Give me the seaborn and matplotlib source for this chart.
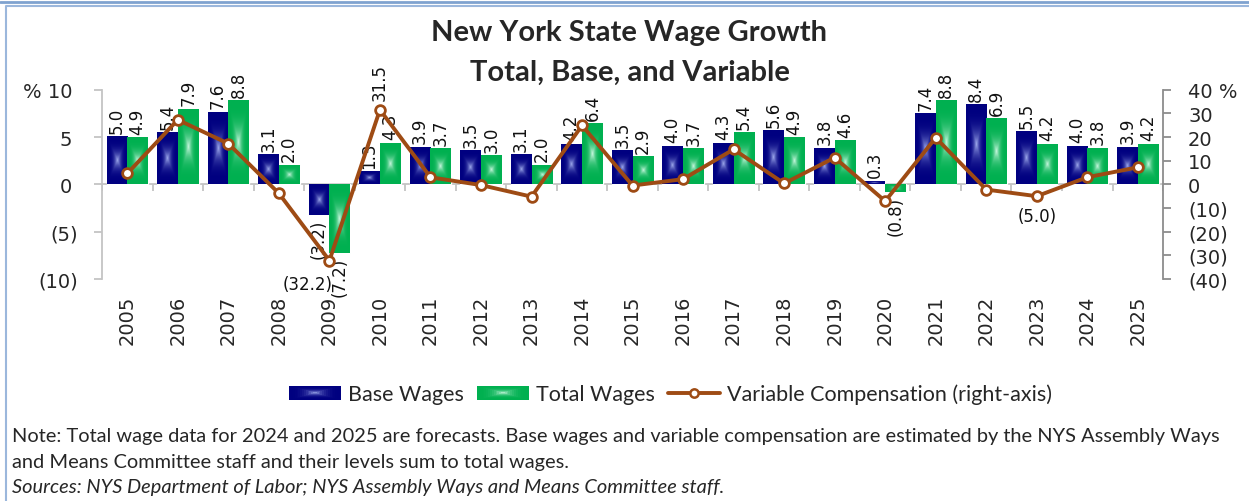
import numpy as np
import pandas as pd
import seaborn as sns
import matplotlib.pyplot as plt
from matplotlib.lines import Line2D
from matplotlib.patches import Rectangle
from matplotlib.colors import to_rgb
from matplotlib.legend_handler import HandlerBase

years = [str(y) for y in range(2005, 2026)]
base_wages = [5.0, 5.4, 7.6, 3.1, -3.2, 1.3, 3.9, 3.5, 3.1, 4.2, 3.5,
              4.0, 4.3, 5.6, 3.8, 0.3, 7.4, 8.4, 5.5, 4.0, 3.9]
total_wages = [4.9, 7.9, 8.8, 2.0, -7.2, 4.3, 3.7, 3.0, 2.0, 6.4, 2.9,
               3.7, 5.4, 4.9, 4.6, -0.8, 8.8, 6.9, 4.2, 3.8, 4.2]
variable_comp = [4.6, 27.3, 17.2, -3.8, -32.2, 31.5, 3.0, -0.3, -5.2, 24.9, -0.5,
                 2.2, 14.8, 0.4, 11.3, -7.1, 19.7, -2.2, -5.0, 3.0, 7.2]
# only these points carry a label in the original
var_label_years = ['2009', '2010', '2023']

left_ticks = [-10, -5, 0, 5, 10]
right_ticks = [-40, -30, -20, -10, 0, 10, 20, 30, 40]

NAVY = '#000080'
NAVY_LIGHT = '#a4b0f0'
GREEN = '#00b050'
GREEN_LIGHT = '#d0fae4'
BROWN = '#9e4b14'
GRID = '#c4c4c4'


def fmt(v):
    return f"{v:.1f}" if v >= 0 else f"({-v:.1f})"


def gradient(edge, center, n=80):
    u = np.linspace(-1, 1, n)
    U, V = np.meshgrid(u, u)
    t = np.maximum(np.abs(U), np.abs(V))
    w = ((1 - t) ** 3.2)[..., None]
    e = np.array(to_rgb(edge))
    c = np.array(to_rgb(center))
    return e + (c - e) * w


class GradHandler(HandlerBase):
    def __init__(self, edge, center):
        super().__init__()
        self.edge = np.array(to_rgb(edge))
        self.center = np.array(to_rgb(center))

    def create_artists(self, legend, orig_handle, xdescent, ydescent,
                       width, height, fontsize, trans):
        arts = []
        steps = 14
        for i in range(steps):
            f = i / steps
            col = self.edge + (self.center - self.edge) * f ** 3.0
            w = width * (1 - f)
            h = height * (1 - f)
            r = Rectangle((-xdescent + (width - w) / 2, -ydescent + (height - h) / 2),
                          w, h, facecolor=col, edgecolor='none', transform=trans)
            arts.append(r)
        return arts


df = pd.DataFrame({
    'year': years * 2,
    'value': base_wages + total_wages,
    'series': ['Base Wages'] * len(years) + ['Total Wages'] * len(years),
})

sns.set_style('white')
plt.rcParams['font.family'] = ['DejaVu Sans']

fig = plt.figure(figsize=(12.49, 5.02), dpi=100)
ax = fig.add_axes([0.0817, 0.4422, 0.8495, 0.3771])

sns.barplot(data=df, x='year', y='value', hue='series',
            hue_order=['Base Wages', 'Total Wages'],
            palette=[NAVY, GREEN], saturation=1, width=0.82,
            legend=False, ax=ax, zorder=2)

n = len(years)

# gradient fill like the Excel bars
for cont, (edge, center) in zip(ax.containers, [(NAVY, NAVY_LIGHT), (GREEN, GREEN_LIGHT)]):
    img = gradient(edge, center)
    for p in cont:
        x0 = p.get_x()
        y0 = min(p.get_y(), p.get_y() + p.get_height())
        y1 = max(p.get_y(), p.get_y() + p.get_height())
        ax.imshow(img, extent=[x0, x0 + p.get_width(), y0, y1], aspect='auto',
                  origin='lower', interpolation='bilinear', zorder=2.5)

for cont, vals in zip(ax.containers, [base_wages, total_wages]):
    ax.bar_label(cont, labels=[fmt(v) for v in vals], rotation=90, padding=3,
                 fontsize=12, color='#111111')

ax.set_xlim(-0.5, n - 0.5)
ax.set_ylim(-10, 10)
ax.axhline(0, color=GRID, lw=1.3, zorder=1)
ax.vlines(np.arange(n + 1) - 0.5, -0.7, 0, color=GRID, lw=1.3, zorder=1)

ax.set_xticks(range(n))
ax.set_xticklabels(years, rotation=90, fontsize=14)
ax.tick_params(axis='x', length=0, pad=11)
ax.set_yticks(left_ticks)
ax.set_yticklabels([('% ' if t == 10 else '') + (f"{t} " if t >= 0 else f"({-t})")
                    for t in left_ticks], fontsize=14)
ax.tick_params(axis='y', length=6, width=1.3, color=GRID, pad=11)
ax.set_xlabel('')
ax.set_ylabel('')
for s in ['top', 'bottom', 'right']:
    ax.spines[s].set_visible(False)
ax.spines['left'].set_color(GRID)
ax.spines['left'].set_linewidth(1.3)
ax.patch.set_alpha(0)

ax2 = ax.twinx()
sns.lineplot(x=np.arange(n), y=variable_comp, ax=ax2, color=BROWN, lw=2.8,
             marker='o', markersize=7, markerfacecolor='white',
             markeredgecolor=BROWN, markeredgewidth=2, zorder=5)
ax2.set_ylim(-40, 40)
ax2.set_yticks(right_ticks)
ax2.set_yticklabels([(f"{t} %" if t == 40 else (f"{t}" if t >= 0 else f"({-t})"))
                     for t in right_ticks], fontsize=14)
ax2.tick_params(axis='y', length=6, width=1.3, color='#8c8c8c', pad=12)
for s in ['top', 'bottom', 'left']:
    ax2.spines[s].set_visible(False)
ax2.spines['right'].set_color('#8c8c8c')
ax2.spines['right'].set_linewidth(1.3)
ax2.set_xlim(-0.5, n - 0.5)

label_style = {
    '2009': dict(xytext=(-16, -17), rotation=0, va='center'),
    '2010': dict(xytext=(0, 7), rotation=90, va='bottom'),
    '2023': dict(xytext=(0, -14), rotation=0, va='center'),
}
for yr in var_label_years:
    i = years.index(yr)
    ax2.annotate(fmt(variable_comp[i]), (i, variable_comp[i]), textcoords='offset points',
                 ha='center', fontsize=12, color='#111111', **label_style[yr])

# title
fig.text(0.504, 0.934, 'New York State Wage Growth', ha='center', va='center',
         fontsize=21, fontweight='bold', family='Lato')
fig.text(0.504, 0.855, 'Total, Base, and Variable', ha='center', va='center',
         fontsize=21, fontweight='bold', family='Lato')

# legend
h_base = Rectangle((0, 0), 1, 1)
h_total = Rectangle((0, 0), 1, 1)
h_var = Line2D([], [], color=BROWN, lw=2.8, marker='o', markersize=6,
               markerfacecolor='white', markeredgecolor=BROWN, markeredgewidth=1.8)
fig.legend([h_base, h_total, h_var],
           ['Base Wages', 'Total Wages', 'Variable Compensation (right-axis)'],
           handler_map={h_base: GradHandler(NAVY, NAVY_LIGHT),
                        h_total: GradHandler(GREEN, GREEN_LIGHT)},
           loc='center', bbox_to_anchor=(0.537, 0.213), ncol=3, frameon=False,
           prop={'family': 'Lato', 'size': 15.5}, handlelength=2.4, handleheight=0.6,
           handletextpad=0.35, columnspacing=0.6)

# notes
note_kw = dict(ha='left', va='center', fontsize=14.4, family='Lato')
fig.text(0.0096, 1 - 437 / 502,
         'Note: Total wage data for 2024 and 2025 are forecasts. Base wages and variable '
         'compensation are estimated by the NYS Assembly Ways', **note_kw)
fig.text(0.0096, 1 - 463 / 502,
         'and Means Committee staff and their levels sum to total wages.', **note_kw)
fig.text(0.0096, 1 - 488 / 502,
         'Sources: NYS Department of Labor; NYS Assembly Ways and Means Committee staff.',
         style='italic', **note_kw)

# frame lines
fig.add_artist(Line2D([0, 1], [1 - 2.5 / 502] * 2, color='#7fa2cf', lw=2,
                      transform=fig.transFigure))
fig.add_artist(Line2D([6 / 1249, 6 / 1249, 1], [0, 1 - 7 / 502, 1 - 7 / 502],
                      color='#9bb7dc', lw=1.5, transform=fig.transFigure))

fig.savefig('out.png', dpi=100)
